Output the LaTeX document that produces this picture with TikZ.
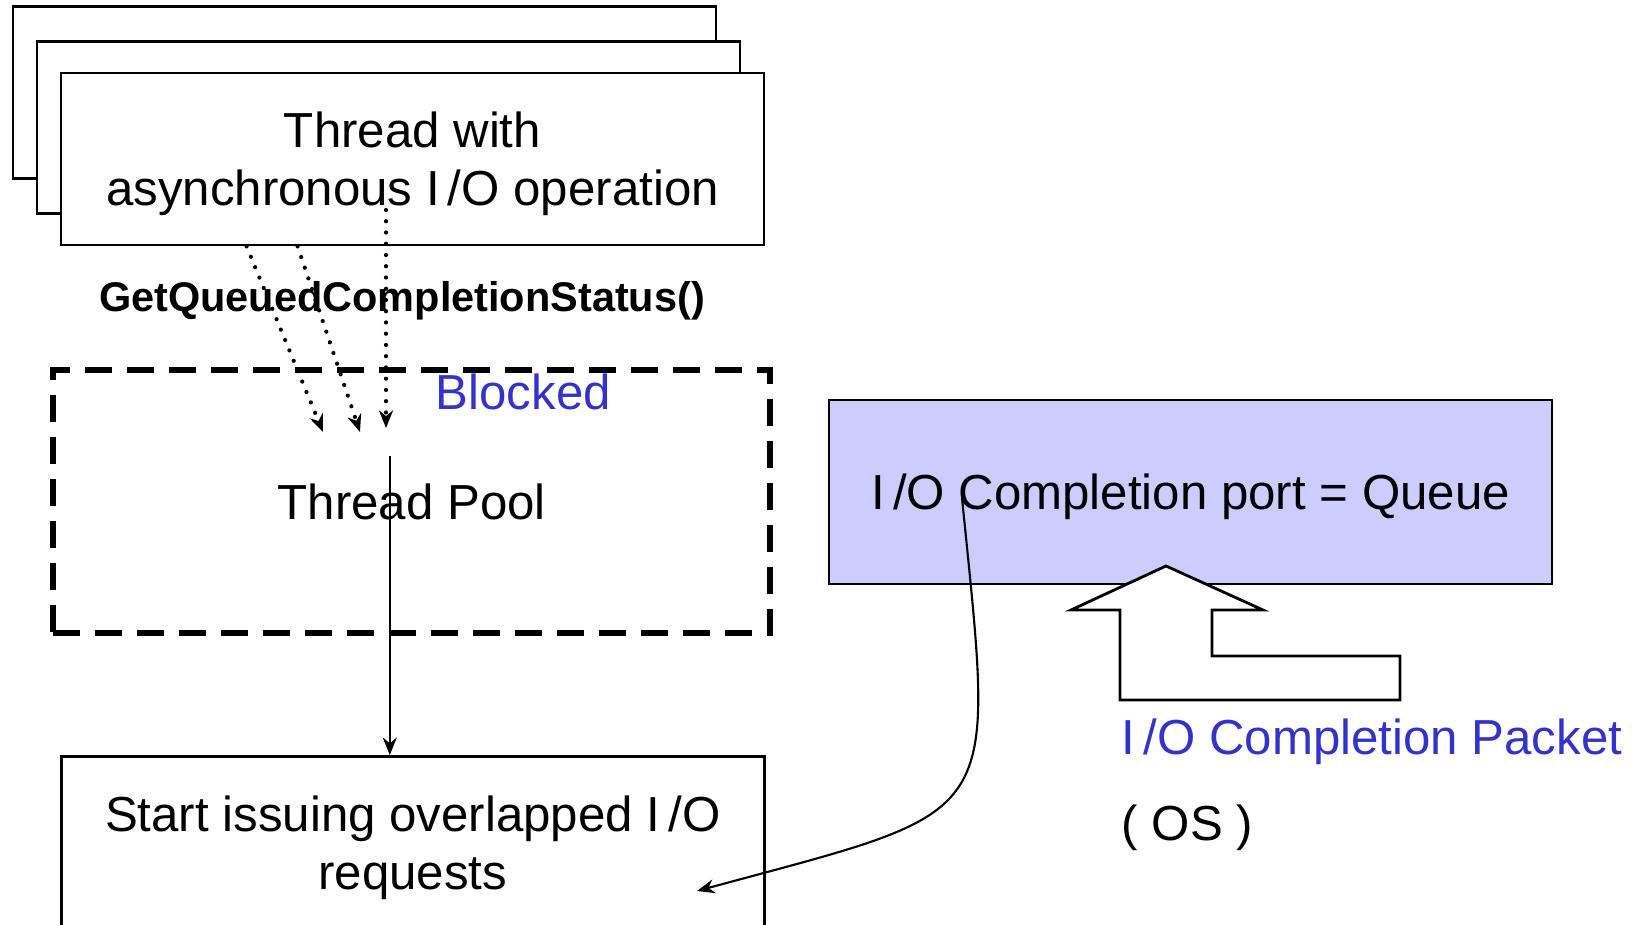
\documentclass[tikz,border=0pt]{standalone}
\usepackage{fontspec}
\setmainfont{Liberation Sans}
\usepackage{xcolor}
\usetikzlibrary{arrows.meta}
\definecolor{portblue}{RGB}{204,204,255}
\definecolor{lblblue}{RGB}{51,51,204}

\begin{document}
\begin{tikzpicture}[
  box/.style ={draw, line width=0.8pt, fill=white, align=center, inner sep=0pt,
               minimum width=7.03cm, minimum height=1.72cm, text depth=0pt,
               font=\fontsize{14}{16.5}\selectfont},
  pool/.style={draw, line width=1.6pt, dash pattern=on 0.27cm off 0.15cm,
               minimum width=7.17cm, minimum height=2.63cm, inner sep=0pt,
               font=\fontsize{14}{16.5}\selectfont},
  port/.style={draw, line width=0.8pt, fill=portblue, inner sep=0pt,
               minimum width=7.23cm, minimum height=1.84cm, text depth=0pt,
               font=\fontsize{14}{16.5}\selectfont},
  arr/.style ={-{Stealth[length=5pt,width=4pt]}, line width=0.6pt},
  dot/.style ={-{Stealth[length=5pt,width=4pt]}, line width=1.2pt, line cap=round,
               dash pattern=on 0pt off 3.2pt},
  lbl/.style ={anchor=west, inner sep=0pt, font=\fontsize{14}{16.5}\selectfont},
]
\useasboundingbox (0,0) rectangle (16.43,-9.25);
\clip (0,0) rectangle (16.43,-9.25);
% Thread stack
\node[box] at (3.645,-0.925) (back1) {};
\node[box] at (3.885,-1.275) (back2) {};
\node[box] at (4.125,-1.59)  (thr)   {Thread with\\asynchronous I\,/O operation};
% Pool and requests
\node[pool] at (4.117,-5.015) (pool) {Thread Pool};
\node[box]  at (4.128,-8.425) (req)  {Start issuing overlapped I\,/O\\requests};
\node[lbl,text=lblblue] at (4.35,-3.92) (blocked) {Blocked};
\node[font=\fontsize{11.8}{14}\selectfont\bfseries, inner sep=0pt] at (4.02,-3.005) (gqcs)
     {GetQueuedCompletionStatus()};
% Completion port
\node[port] at (11.905,-4.92) (port) {I\,/O Completion port = Queue};
\draw[line width=0.8pt, fill=white] (11.66,-5.66) -- (12.63,-6.10) -- (12.12,-6.10)
     -- (12.12,-6.56) -- (14.00,-6.56) -- (14.00,-7.00) -- (11.20,-7.00)
     -- (11.20,-6.10) -- (10.71,-6.10) -- cycle;
\node[lbl,text=lblblue] at (11.21,-7.42) (pkt) {I\,/O Completion Packet};
\node[lbl] at (11.21,-8.28) (os) {( OS )};
% Arrows
\coordinate (d1) at (3.23,-4.32);
\coordinate (d2) at (3.60,-4.32);
\coordinate (d3) at (3.86,-4.28);
\draw[dot] ([xshift=1.87cm]thr.south west) -- (d1);
\draw[dot] ([xshift=2.38cm]thr.south west) -- (d2);
\draw[dot] (3.86,-2.10) -- (d3);
\coordinate (take) at (3.898,-4.558);
\draw[arr] (take) -- (take |- req.north);
\coordinate (done) at (9.62,-4.98);
\coordinate (issue) at (6.97,-8.91);
\draw[arr] (done) .. controls (9.95,-8.28) and (10.06,-8.07) .. (issue);
\end{tikzpicture}
\end{document}
